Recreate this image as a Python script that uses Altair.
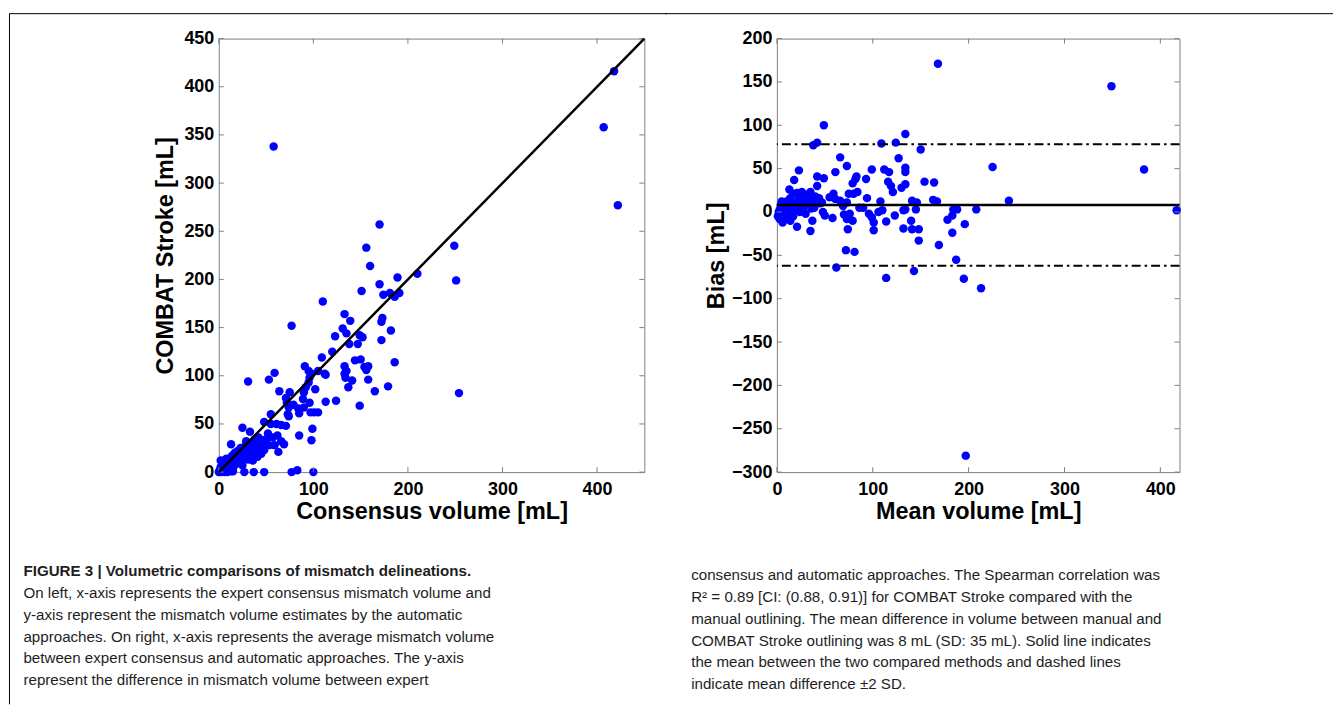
import altair as alt
import pandas as pd

# ---------------- data: left panel (consensus vs COMBAT Stroke) ----------------
left_x_outer = [58, 418, 407, 422, 170, 156, 249, 160, 189, 210, 251, 254]
left_y_outer = [338, 416, 358, 277, 257, 233, 235, 214, 202, 206, 199, 82]

left_x_high = [170, 174, 181, 186, 191,
               151, 110, 133, 139, 173, 172, 77, 131, 135, 182, 123, 149, 152, 147, 138,
               172, 120, 109, 144, 150, 186, 154, 158, 156, 133, 135, 91, 95, 98, 96,
               105, 112, 113, 133, 134, 141, 158, 137, 165, 179]
left_y_high = [195, 184, 186, 182, 186,
               188, 177, 164, 157, 160, 156, 152, 149, 144, 147, 141, 142, 140, 133, 133,
               137, 125, 119, 116, 117, 114, 109, 110, 106, 110, 105, 110, 105, 102, 98,
               105, 102, 101, 102, 98, 95, 96, 88, 84, 89]

left_x_mid = [59, 53, 31, 64, 75, 71, 72, 90, 92, 95, 102, 89, 96, 79, 84, 113, 124, 149,
              74, 73, 74, 85, 90, 97, 101, 105, 55, 48, 55, 61, 66, 71, 25, 33, 52, 85,
              99, 98, 69, 13, 29, 38, 43, 48, 63, 59]
left_y_mid = [103, 96, 94, 84, 83, 77, 72, 83, 88, 93, 86, 76, 72, 70, 66, 73, 74, 69,
              67, 60, 58, 61, 67, 62, 62, 62, 60, 52, 50, 50, 49, 48, 46, 42, 40, 38,
              45, 33, 29, 29, 32, 34, 31, 33, 21, 28]

left_x_low = [0, 1, 2, 3, 4, 5, 6, 7, 8, 9, 10, 11, 12, 13, 14, 15, 16, 17, 18, 19, 20,
              21, 22, 23, 24, 25, 26, 27, 28, 30, 31, 32, 34, 35, 36, 38, 39, 40, 42, 44,
              45, 46, 48, 50, 53, 57, 62, 66, 36, 41, 22, 29, 34, 2, 5, 8, 3, 6,
              2, 9, 15, 27, 37, 48, 77, 83, 100]
left_y_low = [0, 2, 5, 1, 8, 3, 12, 6, 2, 10, 4, 14, 8, 1, 17, 11, 6, 20, 14, 9, 22,
              17, 12, 25, 19, 7, 23, 15, 27, 20, 13, 25, 18, 29, 22, 16, 27, 21, 36, 25,
              19, 29, 23, 34, 28, 36, 38, 32, 12, 16, 21, 24, 23, 12, 9, 14, 4, 0,
              0, 0, 1, 0, 0, 0, 0, 2, 0]

# ---------------- data: right panel (mean volume vs bias) ----------------
right_x_outer = [168, 349, 383, 417, 225, 242, 208, 197, 213, 195, 187, 114, 143, 62]
right_y_outer = [171, 145, 49, 2, 52, 13, 3, -281, -88, -77, -55, -76, -68, -64]

right_x_mid = [49, 42, 38, 109, 124, 134, 150, 127, 66, 73, 61, 23, 18, 13, 42, 49, 42, 99,
               112, 117, 134, 134, 93, 83, 82, 79, 116, 119, 121, 130, 134, 154, 164, 163,
               167, 141, 146, 134, 132, 145, 123, 114, 140, 132, 141, 148, 148, 169, 178,
               183, 184, 188, 183, 196, 72, 81, 74, 79, 73, 70, 76, 73, 75, 80, 84, 86, 90,
               94, 96, 99, 101, 101, 106, 110, 108, 69, 66, 61, 59, 55, 58, 50, 48, 37, 35,
               30, 21, 17, 12, 10, 6]
right_y_mid = [100, 80, 77, 79, 80, 90, 72, 62, 63, 53, 46, 48, 37, 26, 41, 39, 30, 49,
               49, 46, 51, 46, 38, 41, 38, 33, 35, 30, 23, 28, 32, 35, 34, 14,
               12, 13, 11, 3, 2, 3, -4, -11, -10, -19, -20, -20, -33, -38, -9,
               -4, 3, 3, -24, -14, -44, -46, -20, -10, -8, -3, -2, 11, 21, 21, 23, 5, 5,
               16, -2, -6, -12, -21, 0, 2, 12, 7, 13, 15, 21, 17, -7, -4, 0, -10, -22,
               -2, -17, -5, -2, -6, -12]

right_x_low = [2, 3, 5, 7, 9, 9, 10, 12, 14, 15, 17, 19, 21, 23, 25, 26, 28, 30, 31, 33,
               35, 36, 38, 40, 42, 45, 47, 20, 27, 1, 4, 6, 8, 11, 16, 13, 18, 22, 24, 29,
               32, 34, 39, 44, 3, 5, 14]
right_y_low = [0, 3, -3, 5, 8, -2, 12, 4, 16, 9, 21, 11, 22, 15, 6, 23, 13, 20, 17, 10,
               23, 4, 12, 18, 11, 10, 11, 3, 4, -5, 8, 1, -8, 2, 1, 14, 6, 9, 0, 7,
               13, 18, 5, 16, -8, 12, -10]

identity_line = [0, 450]
mean_bias = [8]
limits_of_agreement = [78, -62]

left_xticks = [0, 100, 200, 300, 400]
left_yticks = [0, 50, 100, 150, 200, 250, 300, 350, 400, 450]
right_xticks = [0, 100, 200, 300, 400]
right_yticks = [-300, -250, -200, -150, -100, -50, 0, 50, 100, 150, 200]

caption_title = ["FIGURE 3 | Volumetric comparisons of mismatch delineations."]
caption_left = [
    "On left, x-axis represents the expert consensus mismatch volume and",
    "y-axis represent the mismatch volume estimates by the automatic",
    "approaches. On right, x-axis represents the average mismatch volume",
    "between expert consensus and automatic approaches. The y-axis",
    "represent the difference in mismatch volume between expert",
]
caption_right = [
    "consensus and automatic approaches. The Spearman correlation was",
    "R\u00b2 = 0.89 [CI: (0.88, 0.91)] for COMBAT Stroke compared with the",
    "manual outlining. The mean difference in volume between manual and",
    "COMBAT Stroke outlining was 8 mL (SD: 35 mL). Solid line indicates",
    "the mean between the two compared methods and dashed lines",
    "indicate mean difference \u00b12 SD.",
]

# ---------------- style ----------------
W1, W2, H = 427, 404, 435
BLUE = "#0000ff"
GREY = "#808080"
FONT = "Liberation Sans"
TXT = "#1e1e1e"
TL = 5  # inward tick length


def make_axis(values, title, orient, title_pad=6):
    common = dict(values=values, title=title, ticks=False, tickSize=0, domain=False,
                  grid=False, labelFont=FONT, labelFontSize=18, labelFontWeight="bold",
                  labelColor="black", labelFlush=False, labelOverlap=False, format="d",
                  titleFont=FONT, titleFontSize=23.5, titleFontWeight="bold",
                  titleColor="black")
    if orient == "x":
        return alt.Axis(labelPadding=8, titlePadding=2, **common)
    return alt.Axis(labelPadding=5, titlePadding=title_pad, **common)


def panel(xf, yf, xs, ys, sx, sy, ax, ay, xt, yt, W):
    X = alt.X(f"{xf}:Q", scale=sx, axis=ax)
    Y = alt.Y(f"{yf}:Q", scale=sy, axis=ay)
    pts = alt.Chart(pd.DataFrame({xf: xs, yf: ys})).mark_circle(
        size=72, color=BLUE, opacity=1).encode(x=X, y=Y)
    dfx = pd.DataFrame({xf: xt})
    dfy = pd.DataFrame({yf: yt})
    tb = alt.Chart(dfx).mark_rule(color=GREY, strokeWidth=1).encode(
        x=X, y=alt.value(H), y2=alt.value(H - TL))
    tt = alt.Chart(dfx).mark_rule(color=GREY, strokeWidth=1).encode(
        x=X, y=alt.value(0), y2=alt.value(TL))
    tl = alt.Chart(dfy).mark_rule(color=GREY, strokeWidth=1).encode(
        y=Y, x=alt.value(0), x2=alt.value(TL))
    tr = alt.Chart(dfy).mark_rule(color=GREY, strokeWidth=1).encode(
        y=Y, x=alt.value(W - TL), x2=alt.value(W))
    return X, Y, [pts, tb, tt, tl, tr]


one = pd.DataFrame({"k": [0]})


def text_block(lines, x, y, bold=False):
    return alt.Chart(one).mark_text(
        text=lines, align="left", baseline="top", font=FONT, fontSize=15.2,
        fontWeight="bold" if bold else "normal", lineHeight=22, color=TXT
    ).encode(x=alt.value(x), y=alt.value(y))


def frame_rule():
    return alt.Chart(one).mark_rule(color="black", strokeWidth=1)


# ---------------- left panel ----------------
sxL = alt.Scale(domain=[0, 450], nice=False, zero=False)
syL = alt.Scale(domain=[0, 450], nice=False, zero=False)
axL = make_axis(left_xticks, "Consensus volume [mL]", "x")
ayL = make_axis(left_yticks, "COMBAT Stroke [mL]", "y")
XL, YL, left_layers = panel(
    "consensus", "combat",
    left_x_outer + left_x_high + left_x_mid + left_x_low,
    left_y_outer + left_y_high + left_y_mid + left_y_low,
    sxL, syL, axL, ayL, left_xticks, left_yticks, W1)

diag = alt.Chart(pd.DataFrame({"consensus": identity_line, "combat": identity_line})).mark_line(
    color="black", strokeWidth=2.5).encode(x=XL, y=YL)

frame_v = frame_rule().encode(x=alt.value(-210), y=alt.value(-25), y2=alt.value(668))
frame_hL = frame_rule().encode(x=alt.value(-210), x2=alt.value(450), y=alt.value(-25))

left = alt.layer(
    *left_layers, diag, frame_v, frame_hL,
    text_block(caption_title, -196, 527, bold=True),
    text_block(caption_left, -196, 549),
).properties(width=W1, height=H)

# ---------------- right panel ----------------
sxR = alt.Scale(domain=[0, 420], nice=False, zero=False)
syR = alt.Scale(domain=[-300, 200], nice=False, zero=False)
axR = make_axis(right_xticks, "Mean volume [mL]", "x")
ayR = make_axis(right_yticks, "Bias [mL]", "y", title_pad=3)
XR, YR, right_layers = panel(
    "mean", "bias",
    right_x_outer + right_x_mid + right_x_low,
    right_y_outer + right_y_mid + right_y_low,
    sxR, syR, axR, ayR, right_xticks, right_yticks, W2)

mean_line = alt.Chart(pd.DataFrame({"bias": mean_bias})).mark_rule(
    color="black", strokeWidth=2.5).encode(y=YR)
loa_lines = alt.Chart(pd.DataFrame({"bias": limits_of_agreement})).mark_rule(
    color="black", strokeWidth=2, strokeDash=[9, 4, 2.5, 4]).encode(y=YR)

frame_hR = frame_rule().encode(x=alt.value(-112), x2=alt.value(558), y=alt.value(-25))

right = alt.layer(
    *right_layers, mean_line, loa_lines, frame_hR,
    text_block(caption_right, -86, 531),
).properties(width=W2, height=H)

chart = alt.hconcat(left, right, spacing=-4).properties(
    padding={"left": 0.5, "top": 3.5, "right": 0, "bottom": 0}
).configure_view(stroke=GREY, strokeWidth=1)

chart.save("out.html", embed_options={"renderer": "svg", "actions": False})
